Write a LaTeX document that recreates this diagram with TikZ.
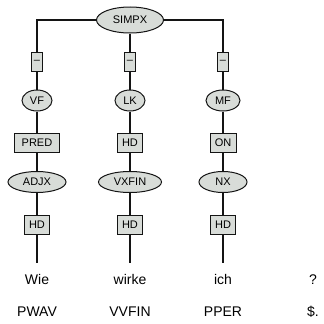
\documentclass[tikz,border=0pt]{standalone}
\usepackage{fontspec}
\setmainfont{Liberation Sans}
\usetikzlibrary{shapes.geometric}
\definecolor{nodefill}{RGB}{216,220,216}
\definecolor{inkcol}{RGB}{20,20,20}
\begin{document}
\begin{tikzpicture}[x=1pt,y=-1pt,
  cat/.style={ellipse, draw=inkcol, line width=1pt, fill=nodefill, inner sep=0pt, minimum height=21pt, font=\fontsize{11}{13}\selectfont},
  fn/.style={rectangle, draw=inkcol, line width=1pt, fill=nodefill, inner sep=0pt, minimum height=19pt, font=\fontsize{11}{13}\selectfont},
  word/.style={anchor=base, inner sep=0pt, font=\fontsize{14}{16}\selectfont},
  conn/.style={draw=inkcol, line width=1.1pt}]
\useasboundingbox (0,0) rectangle (324,324);
% root
\node[cat, minimum width=67pt, minimum height=26pt] (simpx) at (130,20) {SIMPX};
% dash boxes
\node[fn, minimum width=11pt] (d1) at (37,62) {–};
\node[fn, minimum width=11pt] (d2) at (130,62) {–};
\node[fn, minimum width=11pt] (d3) at (223,62) {–};
% fields
\node[cat, minimum width=30pt] (vf) at (37,100.5) {VF};
\node[cat, minimum width=30pt] (lk) at (130,100.5) {LK};
\node[cat, minimum width=34pt] (mf) at (223,100.5) {MF};
% functions
\node[fn, minimum width=45pt] (pred) at (37,142.5) {PRED};
\node[fn, minimum width=25pt] (hd1) at (130,142.5) {HD};
\node[fn, minimum width=26pt] (on) at (223,142.5) {ON};
% phrases
\node[cat, minimum width=58pt] (adjx) at (37,182) {ADJX};
\node[cat, minimum width=63pt] (vxfin) at (130,182) {VXFIN};
\node[cat, minimum width=48pt] (nx) at (223,182) {NX};
% head boxes
\node[fn, minimum width=25pt] (hda) at (37,224.5) {HD};
\node[fn, minimum width=25pt] (hdb) at (130,224.5) {HD};
\node[fn, minimum width=25pt] (hdc) at (223,224.5) {HD};
% line ends
\coordinate (ea) at (37,263);
\coordinate (eb) at (130,263);
\coordinate (ec) at (223,263);
% words
\node[word] (w1) at (37,284) {Wie};
\node[word] (w2) at (130,284) {wirke};
\node[word] (w3) at (223,284) {ich};
\node[word] (w4) at (313,284) {?};
\node[word] (t1) at (37,316) {PWAV};
\node[word] (t2) at (130,316) {VVFIN};
\node[word] (t3) at (223,316) {PPER};
\node[word] (t4) at (313,316) {\$.};
% connectors
\path[conn] (simpx) -| (d1);
\path[conn] (simpx) -- (d2);
\path[conn] (simpx) -| (d3);
\path[conn] (d1) -- (vf) (d2) -- (lk) (d3) -- (mf);
\path[conn] (vf) -- (pred) (lk) -- (hd1) (mf) -- (on);
\path[conn] (pred) -- (adjx) (hd1) -- (vxfin) (on) -- (nx);
\path[conn] (adjx) -- (hda) (vxfin) -- (hdb) (nx) -- (hdc);
\path[conn] (hda.south) -- (ea) (hdb.south) -- (eb) (hdc.south) -- (ec);
\end{tikzpicture}
\end{document}
